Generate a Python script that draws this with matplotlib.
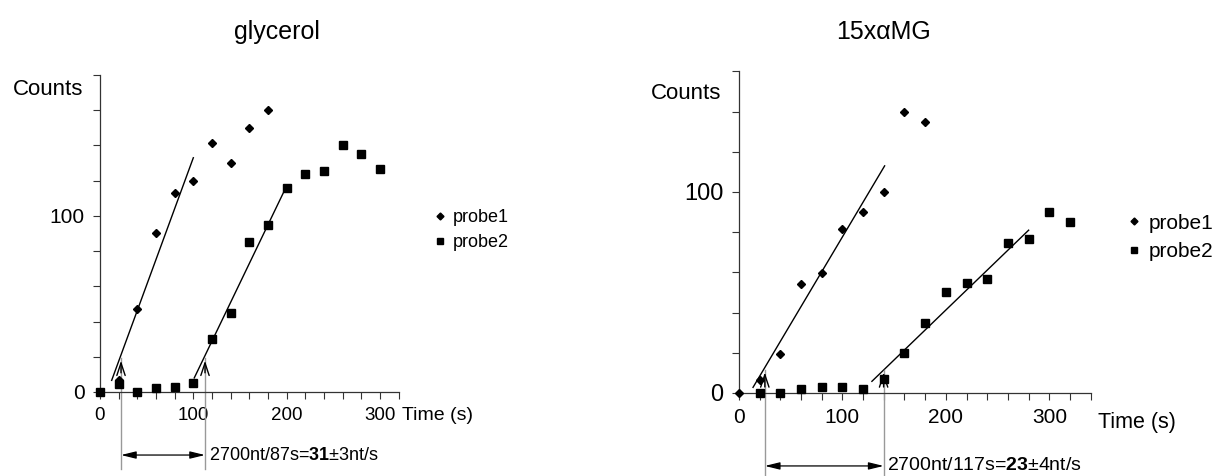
import numpy as np
import matplotlib
matplotlib.use("Agg")
import matplotlib.pyplot as plt

plt.rcParams['font.family'] = ['Liberation Sans', 'DejaVu Sans']
plt.rcParams['mathtext.fontset'] = 'custom'
plt.rcParams['mathtext.rm'] = 'Liberation Sans'
plt.rcParams['mathtext.bf'] = 'Liberation Sans:bold'

# ------------------------------------------------------------------
# data (time in s, counts)
# ------------------------------------------------------------------
gly_t1 = [0, 20, 40, 60, 80, 100, 120, 140, 160, 180]
gly_c1 = [0, 6.6, 47, 90, 113, 120, 141.6, 130, 150, 160]
gly_t2 = [0, 20, 40, 60, 80, 100, 120, 140, 160, 180, 200, 220, 240, 260, 280, 300]
gly_c2 = [0, 4.5, 0, 2.5, 3, 5, 30, 45, 85, 95, 116, 124, 125.5, 140, 135, 126.5]
gly_fit1_t = [12.5, 100]
gly_fit1_c = [6.6, 133]
gly_fit2_t = [101, 200]
gly_fit2_c = [8, 117]
gly_marks = [22.5, 112.5]      # start points of the two waves
gly_tip = 19.3

mg_t1 = [0, 20, 40, 60, 80, 100, 120, 140, 160, 180]
mg_c1 = [0, 6.6, 19.4, 54.4, 59.7, 81.8, 89.9, 100, 140, 134.8]
mg_t2 = [20, 40, 60, 80, 100, 120, 140, 160, 180, 200, 220, 240, 260, 280, 300, 320]
mg_c2 = [0, 0, 2.2, 3.2, 3.2, 2.2, 7, 20, 34.7, 50, 54.7, 56.7, 74.8, 76.6, 90, 85]
mg_fit1_t = [13.6, 140.8]
mg_fit1_c = [2.8, 113]
mg_fit2_t = [128.5, 280]
mg_fit2_c = [5.8, 81]
mg_marks = [25, 139.8]
mg_tip = 11.6

fig = plt.figure(figsize=(12.18, 4.76), dpi=100)

ax1 = fig.add_axes([0.0821, 0.1765, 0.2452, 0.666])
ax2 = fig.add_axes([0.6067, 0.1744, 0.2888, 0.6756])


def setup(ax, xmax, ymax, fs_x, fs_y):
    ax.set_xlim(0, xmax)
    ax.set_ylim(0, ymax)
    for s in ['top', 'right']:
        ax.spines[s].set_visible(False)
    for s in ['left', 'bottom']:
        ax.spines[s].set_linewidth(0.9)
        ax.spines[s].set_color('#333333')
    xt = np.arange(0, xmax + 1, 20)
    ax.set_xticks(xt)
    ax.set_xticklabels([str(v) if v % 100 == 0 else '' for v in xt], fontsize=fs_x)
    yt = np.arange(0, ymax + 1, 20)
    ax.set_yticks(yt)
    ax.set_yticklabels([str(v) if v % 100 == 0 else '' for v in yt], fontsize=fs_y)
    ax.tick_params(direction='out', length=5, width=0.8, color='#333333', pad=6)


def panel(ax, t1, c1, t2, c2, f1t, f1c, f2t, f2c, ms):
    ax.plot(t1, c1, 'D', color='black', ms=ms, clip_on=False, label='probe1', zorder=3)
    ax.plot(t2, c2, 's', color='black', ms=ms + 0.8, clip_on=False, label='probe2', zorder=3)
    ax.plot(f1t, f1c, '-', color='black', lw=1.0)
    ax.plot(f2t, f2c, '-', color='black', lw=1.0)


def markers(ax, marks, tip, y_bot, y_arr, text, tx, fs):
    for m in marks:
        ax.plot([m, m], [y_bot, tip], color='#999999', lw=1.0, clip_on=False)
        ax.annotate('', xy=(m, tip), xytext=(m, tip - 10),
                    arrowprops=dict(arrowstyle='->,head_length=0.9,head_width=0.3',
                                    color='black', lw=1.0),
                    annotation_clip=False)
    ax.annotate('', xy=(marks[1], y_arr), xytext=(marks[0], y_arr),
                arrowprops=dict(arrowstyle='<|-|>,head_length=0.9,head_width=0.22',
                                color='black', lw=0.9, shrinkA=0, shrinkB=0),
                annotation_clip=False)
    ax.text(tx, y_arr, text, fontsize=fs, va='center', ha='left')


setup(ax1, 320, 180, 13.5, 15)
setup(ax2, 340, 160, 15, 17)

panel(ax1, gly_t1, gly_c1, gly_t2, gly_c2, gly_fit1_t, gly_fit1_c,
      gly_fit2_t, gly_fit2_c, 4.4)
panel(ax2, mg_t1, mg_c1, mg_t2, mg_c2, mg_fit1_t, mg_fit1_c,
      mg_fit2_t, mg_fit2_c, 4.4)

markers(ax1, gly_marks, gly_tip, -44, -35.8,
        '2700nt/87s=$\\mathbf{31}$\u00b13nt/s', 116.5, 13)
markers(ax2, mg_marks, mg_tip, -41, -36.3,
        '2700nt/117s=$\\mathbf{23}$\u00b14nt/s', 143, 14)

# axis captions
ax1.text(-0.055, 0.955, 'Counts', transform=ax1.transAxes, fontsize=16,
         ha='right', va='center')
ax2.text(-0.05, 0.93, 'Counts', transform=ax2.transAxes, fontsize=16,
         ha='right', va='center')
ax1.text(1.01, -0.075, 'Time (s)', transform=ax1.transAxes, fontsize=14,
         ha='left', va='center')
ax2.text(1.02, -0.093, 'Time (s)', transform=ax2.transAxes, fontsize=15.5,
         ha='left', va='center')

fig.text(277 / 1218, 1 - 32 / 476, 'glycerol', fontsize=18, ha='center', va='center')
fig.text(884 / 1218, 1 - 32 / 476, '15x\u03b1MG', fontsize=18, ha='center', va='center')

for ax, anchor, fs in [(ax1, (1.09, 0.605), 13), (ax2, (1.075, 0.59), 15)]:
    ax.legend(loc='upper left', bbox_to_anchor=anchor, frameon=False,
              fontsize=fs, handlelength=0.6, handletextpad=0.4,
              markerscale=0.8, labelspacing=0.45, borderpad=0)

fig.savefig('out.png', dpi=100)
